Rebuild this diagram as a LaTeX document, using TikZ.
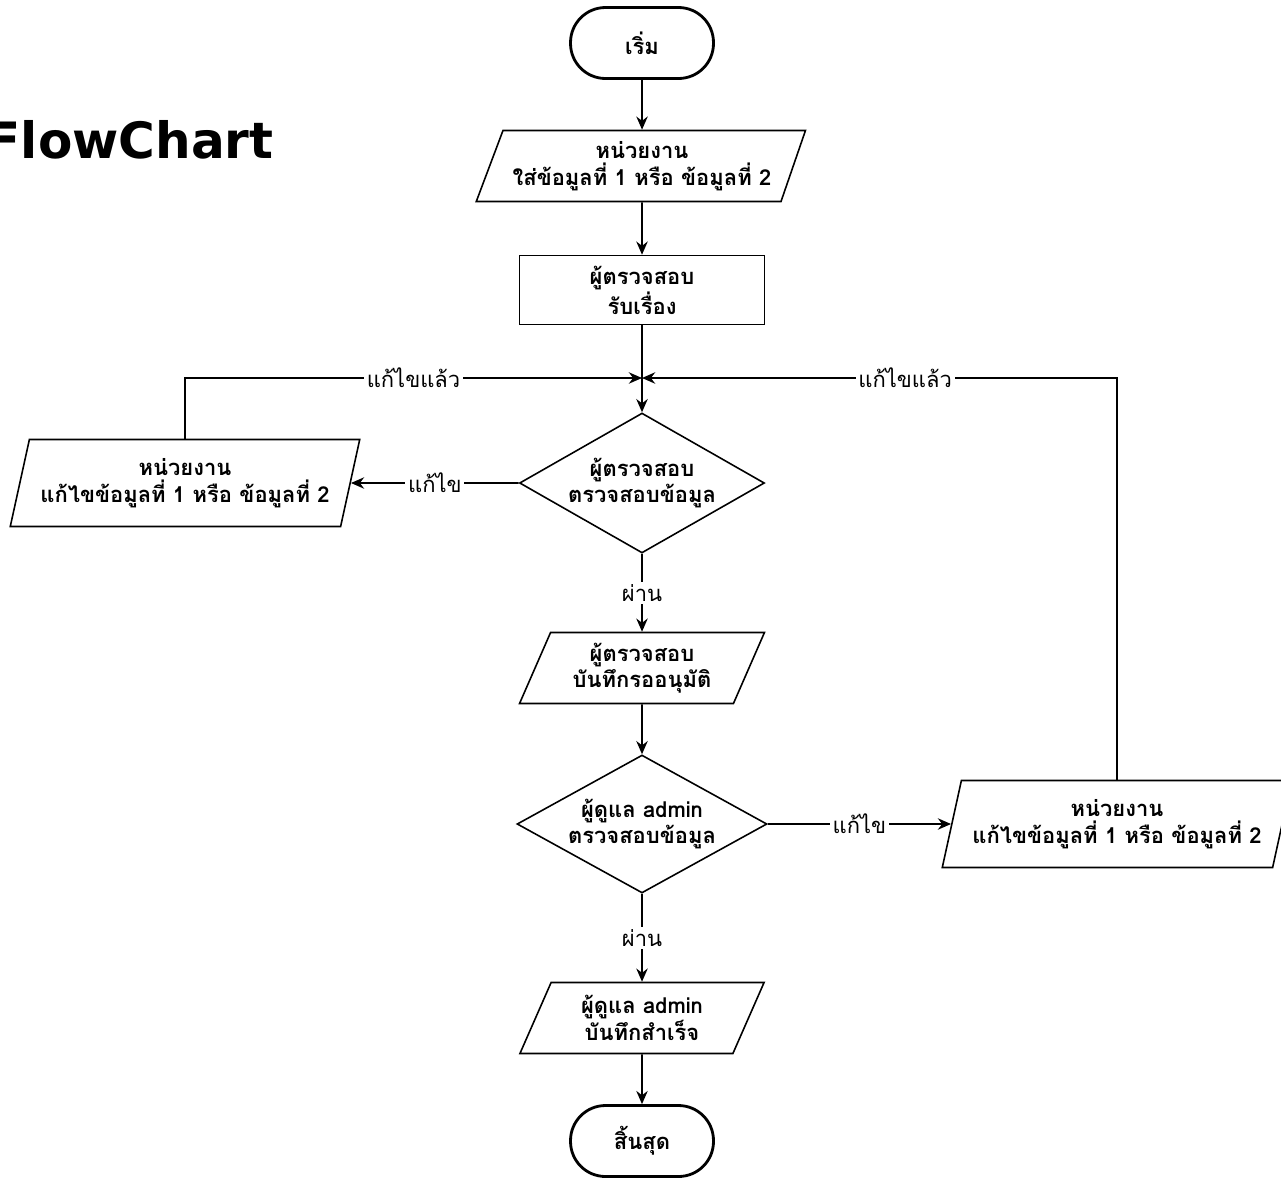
\documentclass[tikz,border=0pt]{standalone}
\usepackage{fontspec}
\setmainfont{Loma}[Script=Thai]
\newfontfamily\titlefont{DejaVu Sans}
\usetikzlibrary{shapes.geometric,arrows.meta}

\begin{document}
\begin{tikzpicture}[x=0.02cm, y=-0.02cm, >={Stealth[length=7.5pt,width=6.5pt]}, line width=0.9pt]
	\tikzstyle{txt}   = [font=\bfseries\fontsize{12.5}{15}\selectfont, align=center]
	\tikzstyle{term}  = [txt, rectangle, rounded corners=0.7cm, minimum width=2.86cm, minimum height=1.42cm, draw=black, line width=1.6pt]
	\tikzstyle{io}    = [txt, trapezium, trapezium left angle=65, trapezium right angle=115, trapezium stretches=true, minimum width=4.9cm, minimum height=1.42cm, inner sep=0pt, draw=black]
	\tikzstyle{wide}  = [trapezium left angle=70, trapezium right angle=110, minimum width=7cm, minimum height=1.74cm]
	\tikzstyle{proc}  = [txt, rectangle, minimum width=4.9cm, minimum height=1.38cm, draw=black]
	\tikzstyle{dec}   = [txt, diamond, aspect=1.75, minimum width=4.9cm, minimum height=2.8cm, inner sep=0pt, draw=black]
	\tikzstyle{lbl}   = [fill=white, inner sep=1.5pt, font=\fontsize{12.5}{15}\selectfont]

	\useasboundingbox (0,0) rectangle (1281,1177);

	\node[anchor=base west, font=\titlefont\bfseries\fontsize{28.5}{32}\selectfont] (title) at (-20,158) {FlowChart};

	% main column
	\node[term] (start) at (642,43) {เริ่ม};
	\node[io, minimum width=6.6cm, trapezium left angle=63] (input) at (642,166) {หน่วยงาน\\ใส่ข้อมูลที่ 1 หรือ ข้อมูลที่ 2};
	\node[proc] (recv) at (642,290) {ผู้ตรวจสอบ\\รับเรื่อง};
	\coordinate (join) at (642,378);
	\node[dec] (check) at (642,483) {ผู้ตรวจสอบ\\ตรวจสอบข้อมูล};
	\node[io] (wait) at (642,668) {ผู้ตรวจสอบ\\บันทึกรออนุมัติ};
	\node[dec, aspect=1.8, minimum width=5cm, minimum height=2.76cm] (admin) at (642,824) {ผู้ดูแล admin\\ตรวจสอบข้อมูล};
	\node[io] (done) at (642,1018) {ผู้ดูแล admin\\บันทึกสำเร็จ};
	\node[term] (stop) at (642,1141) {สิ้นสุด};

	% fix boxes
	\node[io, wide] (fixl) at (185,483) {หน่วยงาน\\แก้ไขข้อมูลที่ 1 หรือ ข้อมูลที่ 2};
	\node[io, wide] (fixr) at (1117,824) {หน่วยงาน\\แก้ไขข้อมูลที่ 1 หรือ ข้อมูลที่ 2};

	\foreach \from/\to in {start/input, input/recv, recv/check, wait/admin, done/stop}
		\draw[->] (\from) -- (\to);

	\draw[->] (check) -- node[lbl] {ผ่าน} (wait);
	\draw[->] (admin) -- node[lbl] {ผ่าน} (done);
	\draw[->] (check) -- node[lbl] {แก้ไข} (fixl);
	\draw[->] (admin) -- node[lbl] {แก้ไข} (fixr);
	\draw[->] (fixl.north) |- node[lbl, pos=0.75] {แก้ไขแล้ว} (join);
	\draw[->] (fixr.north) |- node[lbl, pos=0.723] {แก้ไขแล้ว} (join);
\end{tikzpicture}
\end{document}
